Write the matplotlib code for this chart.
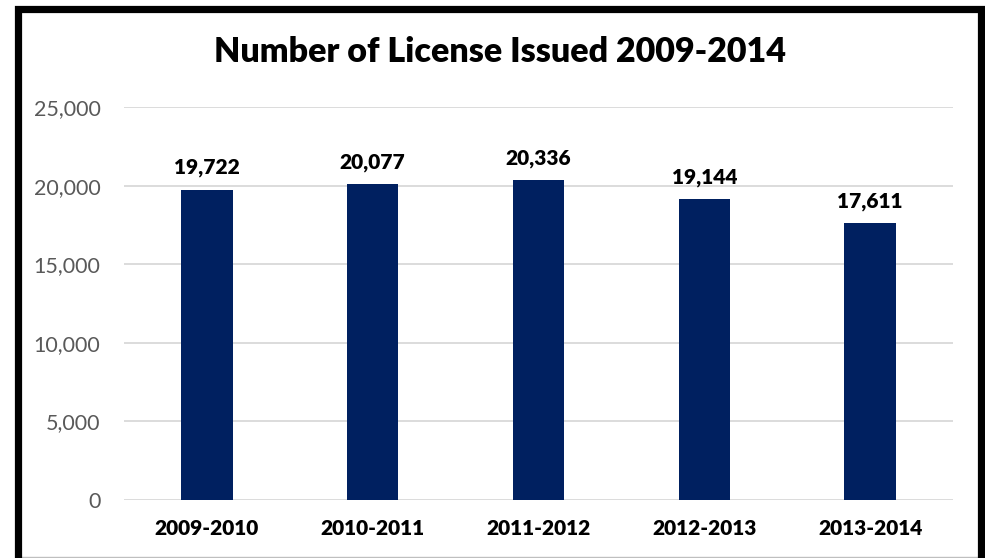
import matplotlib
matplotlib.use("Agg")
import matplotlib.pyplot as plt
from matplotlib.patches import Rectangle
from matplotlib.lines import Line2D
from matplotlib.ticker import FuncFormatter

# License counts per fiscal year
years = ["2009-2010", "2010-2011", "2011-2012", "2012-2013", "2013-2014"]
licenses = [19722, 20077, 20336, 19144, 17611]
y_ticks = [0, 5000, 10000, 15000, 20000, 25000]

NAVY = "#002060"
W, H, DPI = 985, 558, 100

plt.rcParams["font.family"] = ["Lato", "DejaVu Sans"]

fig = plt.figure(figsize=(W / DPI, H / DPI), dpi=DPI)
ax = fig.add_axes([124 / W, 1 - 500 / H, (953 - 124) / W, (500 - 107) / H])

x = range(len(years))
bars = ax.bar(x, licenses, width=0.31, color=NAVY, zorder=3)

for b, v in zip(bars, licenses):
    ax.annotate(f"{v:,}", (b.get_x() + b.get_width() / 2, v),
                xytext=(0, 9), textcoords="offset points",
                ha="center", va="bottom", fontsize=15, fontweight="heavy",
                color="black")

ax.set_xlim(-0.5, len(years) - 0.5)
ax.set_ylim(0, 25000)
ax.set_yticks(y_ticks)
ax.yaxis.set_major_formatter(FuncFormatter(lambda v, _: f"{int(v):,}"))
ax.set_xticks(list(x))
ax.set_xticklabels(years, fontsize=15, fontweight="heavy")
ax.tick_params(axis="y", labelsize=15.5, labelcolor="#595959", length=0, pad=17)
ax.tick_params(axis="x", length=0, pad=14)
ax.grid(axis="y", color="#d9d9d9", linewidth=1.3, zorder=0)
for s in ax.spines.values():
    s.set_visible(False)

fig.text(500 / W, 1 - 52 / H, "Number of License Issued 2009-2014",
         ha="center", va="center", fontsize=24.5, fontweight="heavy")

# heavy black frame around the chart area; bottom edge runs off the image
frame = Rectangle((17.5 / W, -0.05), (981 - 17.5) / W, 1.05 - 8.5 / H,
                  transform=fig.transFigure, fill=False,
                  edgecolor="black", linewidth=5.2, zorder=10)
fig.patches.append(frame)
fig.lines.append(Line2D([21 / W, 977 / W], [1.5 / H, 1.5 / H],
                        transform=fig.transFigure, color="#bfbfbf",
                        linewidth=1.0))

fig.savefig("out.png", dpi=DPI)
